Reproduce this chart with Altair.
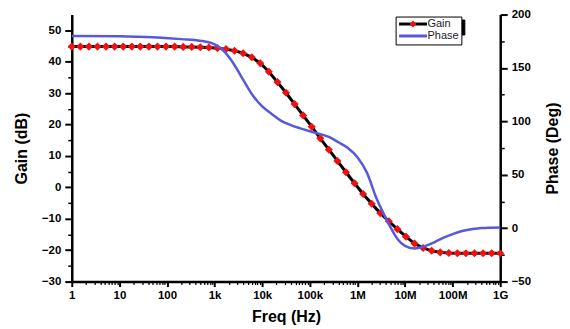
import altair as alt
import pandas as pd

# ---- data ----
log_freq = [0.00, 0.18, 0.36, 0.54, 0.72, 0.90, 1.08, 1.26, 1.44, 1.62,
            1.80, 1.98, 2.16, 2.34, 2.52, 2.70, 2.88, 3.06, 3.24, 3.42,
            3.60, 3.78, 3.96, 4.14, 4.32, 4.50, 4.68, 4.86, 5.04, 5.22,
            5.40, 5.58, 5.76, 5.94, 6.12, 6.30, 6.48, 6.66, 6.84, 7.02,
            7.20, 7.38, 7.56, 7.74, 7.92, 8.10, 8.28, 8.46, 8.64, 8.82, 9.00]
gain_db = [44.8, 44.8, 44.8, 44.8, 44.8, 44.8, 44.8, 44.8, 44.8, 44.8,
           44.8, 44.8, 44.8, 44.7, 44.7, 44.6, 44.5, 44.3, 44.0, 43.5,
           42.7, 41.4, 39.5, 36.8, 33.5, 30.1, 26.5, 22.9, 19.3, 15.6,
           12.0, 8.4, 4.8, 1.3, -2.1, -5.2, -8.2, -10.8, -13.3, -15.7,
           -17.9, -19.3, -20.2, -20.7, -20.9, -21.0, -21.0, -21.0, -21.0, -21.0, -21.0]

phase_log_freq = [0.0, 1.0, 1.8, 2.3, 2.7, 3.0, 3.2, 3.4, 3.6, 3.8,
                  4.0, 4.2, 4.4, 4.6, 4.8, 5.0, 5.2, 5.4, 5.6, 5.8,
                  6.0, 6.2, 6.4, 6.55, 6.7, 6.85, 7.0, 7.2, 7.4, 7.6,
                  7.8, 8.0, 8.2, 8.4, 8.6, 8.8, 9.0]
phase_deg = [180, 179.8, 178.5, 177, 175.5, 172, 165.5, 154, 139, 124.5,
             114, 107, 100.5, 96.5, 93.5, 90.8, 88.3, 85.5, 80.5, 75,
             66.5, 52, 28, 13.6, 0.5, -10.5, -16.5, -19, -17, -13.5,
             -9, -5.5, -2.7, -1, 0.2, 0.5, 0.6]

series_names = ["Gain", "Phase"]
freq_ticks = [1, 10, 100, 1e3, 1e4, 1e5, 1e6, 1e7, 1e8, 1e9]
freq_minor = [k * 10 ** d for d in range(9) for k in range(2, 10)]
gain_ticks = [-30, -20, -10, 0, 10, 20, 30, 40, 50]
gain_minor = [-25, -15, -5, 5, 15, 25, 35, 45]
phase_ticks = [-50, 0, 50, 100, 150, 200]
phase_minor = [-25, 25, 75, 125, 175]

gain_df = pd.DataFrame({"freq": [10 ** v for v in log_freq], "gain": gain_db, "series": "Gain"})
phase_df = pd.DataFrame({"freq": [10 ** v for v in phase_log_freq], "phase": phase_deg, "series": "Phase"})
shadow_df = pd.DataFrame({"key": series_names})

FONT = "Liberation Sans"
BLUE = "#5858dc"
RED = "#f01010"

xscale = alt.Scale(type="log", domain=[1, 1e9], nice=False)
gscale = alt.Scale(domain=[-30, 55], nice=False, zero=False)
pscale = alt.Scale(domain=[-50, 200], nice=False, zero=False)
cscale = alt.Scale(domain=series_names, range=["black", BLUE])

common = dict(domainColor="black", tickColor="black", labelFont=FONT,
              labelFontWeight="bold", labelFontSize=11.5, labelColor="black",
              titleFont=FONT, titleFontWeight="bold", titleFontSize=16,
              titleColor="black", grid=False, labelOverlap=False, labelFlush=False)

x_axis = alt.Axis(orient="bottom", values=freq_ticks, format="~s", tickSize=5,
                  tickWidth=2, domainWidth=2.5, labelPadding=3, title="Freq (Hz)",
                  titlePadding=8, **common)
x_minor_axis = alt.Axis(orient="bottom", values=freq_minor, labels=False, domain=False,
                        tickSize=3, tickWidth=1.2, title=None, **common)
g_axis = alt.Axis(orient="left", values=gain_ticks, tickSize=7, tickWidth=2,
                  domainWidth=2.5, labelPadding=4, title="Gain (dB)", titlePadding=12, **common)
g_minor_axis = alt.Axis(orient="left", values=gain_minor, labels=False, domain=False,
                        tickSize=4, tickWidth=1.5, title=None, **common)
p_axis = alt.Axis(orient="right", values=phase_ticks, tickSize=7, tickWidth=2,
                  domainWidth=2.5, labelPadding=4, title="Phase (Deg)", titlePadding=14,
                  titleAngle=270, titleBaseline="top", **common)
p_minor_axis = alt.Axis(orient="right", values=phase_minor, labels=False, domain=False,
                        tickSize=4, tickWidth=1.5, title=None, **common)

LINE_PATH = "M-4,0L4,0"
DIAMOND_PATH = "M0,-1.15L1.15,0L0,1.15L-1.15,0Z"
LEG_X, LEG_Y = 325, 2
leg_common = dict(orient="none", padding=2, symbolSize=49, symbolStrokeWidth=3,
                  symbolOffset=10, labelFont=FONT, labelFontSize=11, title=None)
main_legend = alt.Legend(symbolType=LINE_PATH, labelColor="#222222", legendX=LEG_X, legendY=LEG_Y,
                         fillColor="white", strokeColor="black", rowPadding=-3, labelOffset=9,
                         **leg_common)
diamond_legend = alt.Legend(symbolType=DIAMOND_PATH, symbolFillColor=RED, legendX=LEG_X, legendY=LEG_Y,
                            symbolStrokeColor="transparent", labelExpr="''", rowPadding=-3,
                            labelOffset=9, **leg_common)
shadow_legend = alt.Legend(symbolType=LINE_PATH, symbolStrokeColor="transparent",
                           symbolFillColor="transparent", symbolOpacity=0, labelExpr="''",
                           legendX=LEG_X + 4, legendY=LEG_Y + 3, rowPadding=11, labelOffset=40,
                           fillColor="black", strokeColor="black", **leg_common)

shadow_layer = alt.Chart(shadow_df).mark_point(opacity=0).encode(
    opacity=alt.Opacity("key:O", scale=alt.Scale(range=[0, 0]), legend=shadow_legend),
)
gain_line = alt.Chart(gain_df).mark_line(strokeWidth=3).encode(
    x=alt.X("freq:Q", scale=xscale, axis=x_axis),
    y=alt.Y("gain:Q", scale=gscale, axis=g_axis),
    color=alt.Color("series:N", scale=cscale, legend=main_legend),
)
gain_pts = alt.Chart(gain_df).mark_point(filled=True, size=66, strokeWidth=0, opacity=1).encode(
    x=alt.X("freq:Q", scale=xscale, axis=None),
    y=alt.Y("gain:Q", scale=gscale, axis=None),
    shape=alt.Shape("series:N", scale=alt.Scale(domain=["Gain"], range=["diamond"]),
                    legend=diamond_legend),
    fill=alt.value(RED),
)
phase_line = alt.Chart(phase_df).mark_line(strokeWidth=2.5, interpolate="monotone").encode(
    x=alt.X("freq:Q", scale=xscale, axis=None),
    y=alt.Y("phase:Q", scale=pscale, axis=p_axis),
    color=alt.Color("series:N", scale=cscale, legend=main_legend),
)
minor_left = alt.Chart(gain_df).mark_line(opacity=0).encode(
    x=alt.X("freq:Q", scale=xscale, axis=x_minor_axis),
    y=alt.Y("gain:Q", scale=gscale, axis=g_minor_axis),
)
minor_right = alt.Chart(phase_df).mark_line(opacity=0).encode(
    x=alt.X("freq:Q", scale=xscale, axis=None),
    y=alt.Y("phase:Q", scale=pscale, axis=p_minor_axis),
)

chart = alt.layer(shadow_layer, minor_left, minor_right, gain_line, gain_pts, phase_line).resolve_scale(
    x="independent", y="independent"
).resolve_axis(
    x="independent", y="independent"
).properties(
    width=430, height=268,
    autosize=alt.AutoSizeParams(type="none"),
    padding={"left": 64, "top": 6, "right": 62, "bottom": 47},
    background="white",
).configure_view(stroke=None)

chart.save("out.html", embed_options={"renderer": "svg", "actions": False})
